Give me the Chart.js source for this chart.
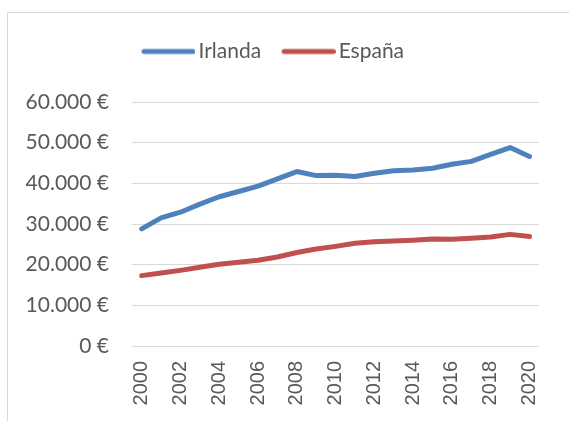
<!DOCTYPE html>
<html>
<head>
<meta charset="utf-8">
<script src="https://cdn.jsdelivr.net/npm/chart.js@4"></script>
<style>
  html, body { margin: 0; padding: 0; background: #fff; overflow: hidden; }
  #wrap { position: relative; width: 569px; height: 421px; }
  #frame { position: absolute; left: 7px; top: 12px; width: 700px; height: 600px;
           border: 1px solid #d9d9d9; pointer-events: none; }
  canvas { position: absolute; left: 0; top: 0; }
</style>
</head>
<body>
<div id="wrap">
  <div id="frame"></div>
  <canvas id="line-chart" width="569" height="421"></canvas>
</div>
<script>
// Años del eje X
const anios = ["2000","2001","2002","2003","2004","2005","2006","2007","2008","2009","2010",
               "2011","2012","2013","2014","2015","2016","2017","2018","2019","2020"];
// PIB per cápita (€)
const irlanda = [28800, 31500, 32900, 34900, 36700, 38000, 39300, 41100, 42900, 41900, 42000,
                 41700, 42500, 43100, 43300, 43700, 44700, 45400, 47100, 48800, 46600];
const espana = [17300, 17950, 18600, 19350, 20100, 20600, 21100, 21900, 23000, 23850, 24500,
                25250, 25650, 25800, 26000, 26300, 26250, 26500, 26800, 27450, 26900];
// Marcas del eje Y
const marcasY = [0, 10000, 20000, 30000, 40000, 50000, 60000];

const fmtEuro = v => v.toLocaleString("de-DE") + " €";

// Muestra de la leyenda: línea gruesa pegada al texto
function muestra(color) {
    const c = document.createElement("canvas");
    c.width = 60; c.height = 8;
    const ctx = c.getContext("2d");
    ctx.strokeStyle = color;
    ctx.lineWidth = 5;
    ctx.lineCap = "round";
    ctx.beginPath();
    ctx.moveTo(8.5, 4);
    ctx.lineTo(57.5, 4);
    ctx.stroke();
    return c;
}

// Espacio extra debajo de la leyenda
const huecoLeyenda = {
    id: 'huecoLeyenda',
    beforeLayout(chart) {
        const lg = chart.legend;
        if (lg && !lg._hueco) {
            const fit = lg.fit.bind(lg);
            lg.fit = function() { fit(); this.height += 30; };
            lg._hueco = true;
        }
    }
};

new Chart(document.getElementById("line-chart"), {
    type: 'line',
    plugins: [huecoLeyenda],
    data: {
        labels: anios,
        datasets: [{
            label: "Irlanda",
            data: irlanda,
            borderColor: "#4f81bd",
            backgroundColor: "#4f81bd",
            borderWidth: 5,
            borderCapStyle: 'round',
            borderJoinStyle: 'round',
            pointRadius: 0,
            pointStyle: muestra("#4f81bd"),
            tension: 0
        }, {
            label: "España",
            data: espana,
            borderColor: "#c0504d",
            backgroundColor: "#c0504d",
            borderWidth: 5,
            borderCapStyle: 'round',
            borderJoinStyle: 'round',
            pointRadius: 0,
            pointStyle: muestra("#c0504d"),
            tension: 0
        }]
    },
    options: {
        responsive: false,
        animation: false,
        layout: { padding: { top: 19, right: 22, left: 0, bottom: 0 } },
        plugins: {
            legend: {
                display: true,
                position: 'top',
                labels: {
                    usePointStyle: true,
                    pointStyleWidth: 45,
                    color: "#595959",
                    font: { family: "Lato", size: 21 },
                    padding: 22
                }
            },
            title: { display: false },
            tooltip: { enabled: false }
        },
        scales: {
            x: {
                offset: true,
                grid: { display: false, drawTicks: false },
                border: { display: false },
                ticks: {
                    autoSkip: false,
                    minRotation: 90,
                    maxRotation: 90,
                    padding: 15,
                    color: "#595959",
                    font: { family: "Liberation Sans", size: 20 },
                    callback: function(val, i) { return i % 2 === 0 ? anios[i] : ""; }
                },
                afterFit: s => { s.height = 75; }
            },
            y: {
                min: 0,
                max: 60000,
                afterBuildTicks: s => { s.ticks = marcasY.map(v => ({ value: v })); },
                grid: { color: "#d9d9d9", lineWidth: 1, drawTicks: false },
                border: { display: false },
                ticks: {
                    padding: 23,
                    color: "#595959",
                    font: { family: "Lato", size: 21 },
                    callback: v => fmtEuro(v)
                },
                afterFit: s => { s.width = 132; }
            }
        }
    }
});
</script>
</body>
</html>
